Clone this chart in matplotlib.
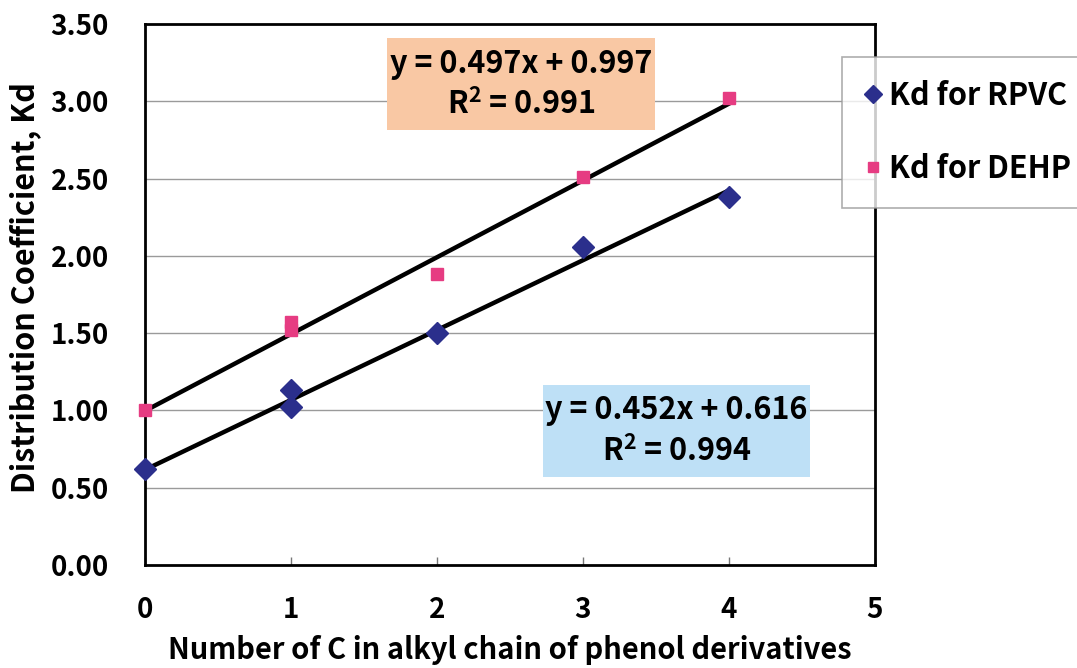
import matplotlib
matplotlib.use('Agg')
import matplotlib.pyplot as plt
from matplotlib.patches import Rectangle

plt.rcParams['font.family'] = ['Noto Sans CJK JP', 'DejaVu Sans']
plt.rcParams['font.weight'] = 'bold'
plt.rcParams['axes.labelweight'] = 'bold'
plt.rcParams['mathtext.fontset'] = 'custom'
plt.rcParams['mathtext.bf'] = 'Noto Sans CJK JP:bold'

# measured distribution coefficients
rpvc_x = [0, 1, 1, 2, 3, 4]
rpvc_kd = [0.62, 1.13, 1.02, 1.50, 2.06, 2.38]
dehp_x = [0, 1, 1, 2, 3, 4]
dehp_kd = [1.00, 1.57, 1.52, 1.88, 2.51, 3.02]

# linear fits
rpvc_slope, rpvc_icpt, rpvc_r2 = 0.452, 0.616, 0.994
dehp_slope, dehp_icpt, dehp_r2 = 0.497, 0.997, 0.991
fit_x = [0, 4]

xticks = [0, 1, 2, 3, 4, 5]
yticks = [0.0, 0.5, 1.0, 1.5, 2.0, 2.5, 3.0, 3.5]

fig = plt.figure(figsize=(10.77, 6.68), dpi=100)
ax = fig.add_axes([0.1346, 0.1542, 0.6778, 0.8098])

navy = '#2B2F8C'
pink = '#E63C82'
fs = 22

for y in yticks[1:-1]:
    ax.axhline(y, color='#9a9a9a', lw=1.0, zorder=0)

ax.plot(fit_x, [dehp_icpt + dehp_slope * x for x in fit_x], color='black', lw=3.2, zorder=2)
ax.plot(fit_x, [rpvc_icpt + rpvc_slope * x for x in fit_x], color='black', lw=3.2, zorder=2)

ax.plot(rpvc_x, rpvc_kd, 'D', color=navy, ms=11, ls='none', label='Kd for RPVC', zorder=3, clip_on=False)
ax.plot(dehp_x, dehp_kd, 's', color=pink, ms=8, ls='none', label='Kd for DEHP', zorder=3, clip_on=False)

ax.set_xlim(0, 5)
ax.set_ylim(0, 3.5)
ax.set_xticks(xticks)
ax.set_xticklabels([str(t) for t in xticks])
ax.set_yticks(yticks)
ax.set_yticklabels(['%.2f' % t for t in yticks])
ax.tick_params(axis='x', direction='in', length=5.5, width=1, color='#777777', pad=22, labelsize=20)
ax.tick_params(axis='y', length=0, pad=26, labelsize=20)
for s in ax.spines.values():
    s.set_linewidth(2)

ax.set_xlabel('Number of C in alkyl chain of phenol derivatives', fontsize=21, va='center')
ax.xaxis.set_label_coords(0.5, -0.157)
ax.set_ylabel('Distribution Coefficient, Kd', fontsize=22, va='center')
ax.yaxis.set_label_coords(-0.164, 0.512)

# equation boxes
ax.add_patch(Rectangle((0.3315, 0.804), 0.367, 0.170, transform=ax.transAxes,
                       facecolor='#F9C8A4', edgecolor='none', zorder=4))
ax.text(0.515, 0.927, 'y = %.3fx + %.3f' % (dehp_slope, dehp_icpt), transform=ax.transAxes,
        ha='center', va='center', fontsize=fs, zorder=5)
ax.text(0.515, 0.850, r'R$^\mathbf{2}$ = %.3f' % dehp_r2, transform=ax.transAxes,
        ha='center', va='center', fontsize=fs, zorder=5)

ax.add_patch(Rectangle((0.545, 0.163), 0.366, 0.170, transform=ax.transAxes,
                       facecolor='#BEE0F6', edgecolor='none', zorder=4))
ax.text(0.728, 0.286, 'y = %.3fx + %.3f' % (rpvc_slope, rpvc_icpt), transform=ax.transAxes,
        ha='center', va='center', fontsize=fs, zorder=5)
ax.text(0.728, 0.209, r'R$^\mathbf{2}$ = %.3f' % rpvc_r2, transform=ax.transAxes,
        ha='center', va='center', fontsize=fs, zorder=5)

leg = fig.legend(loc='upper left', bbox_to_anchor=(842 / 1077, 1 - 57 / 668),
                 fontsize=fs, frameon=True, fancybox=False, edgecolor='#999999',
                 handlelength=0.5, handletextpad=0.3, labelspacing=1.35,
                 borderpad=0.75, borderaxespad=0, markerscale=0.85)
leg.get_frame().set_linewidth(1.2)

fig.savefig('out.png', dpi=100)
